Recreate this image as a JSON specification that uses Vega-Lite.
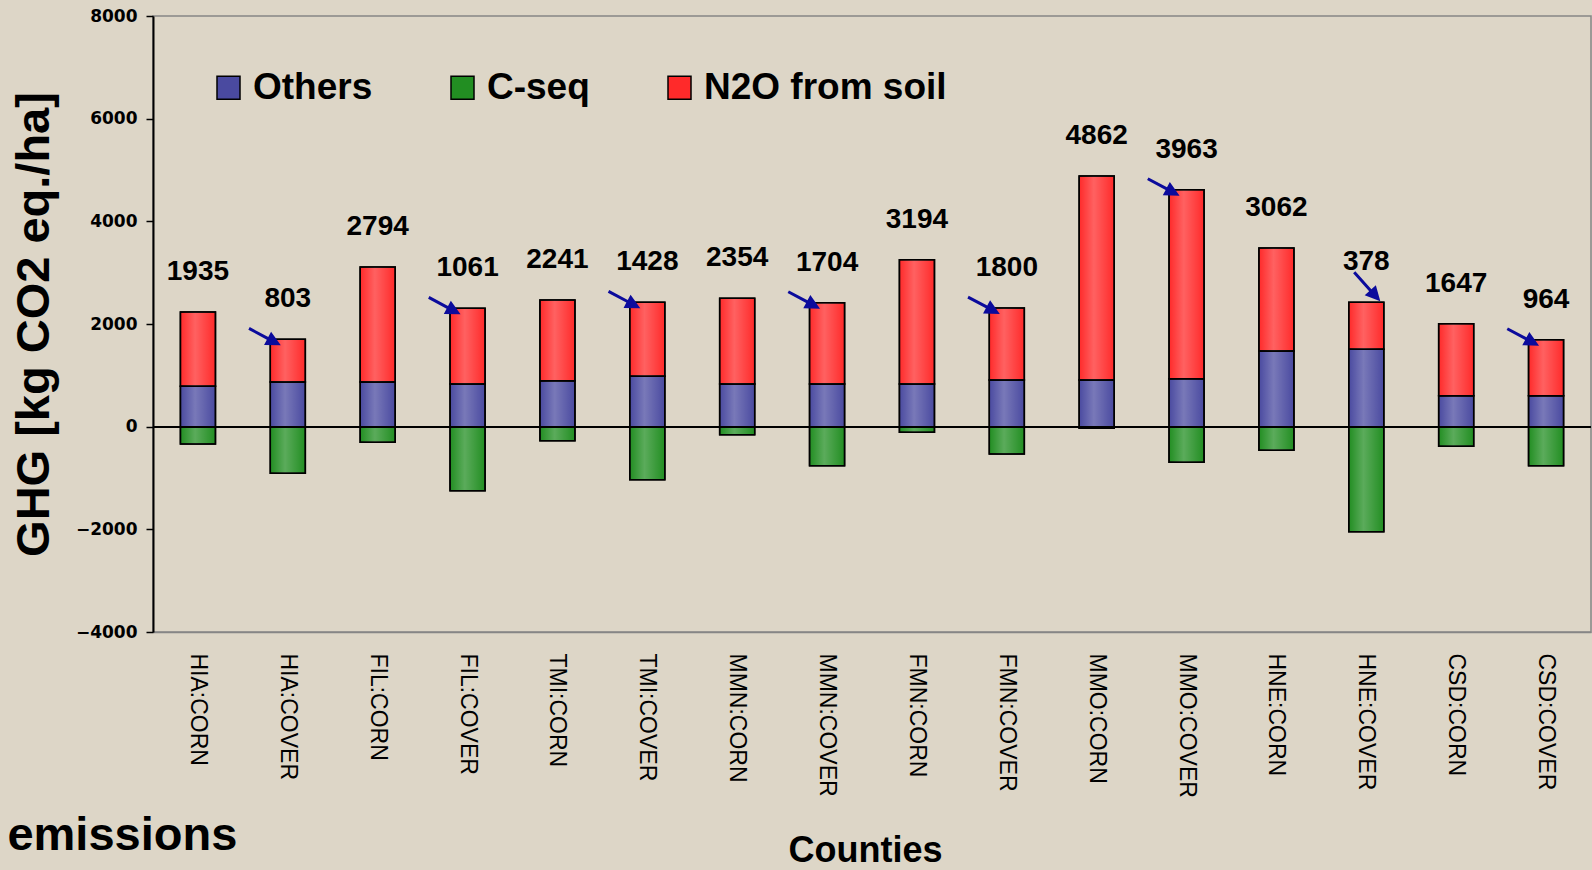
{
  "$schema": "https://vega.github.io/schema/vega-lite/v6.json",
  "width": 1438,
  "height": 616,
  "autosize": {"type": "none"},
  "padding": {"left": 153, "top": 16, "right": 1, "bottom": 238},
  "background": "#DDD6C7",
  "config": {
    "view": {"stroke": "#868686", "strokeWidth": 1.5},
    "font": "Liberation Sans",
    "axisY": {
      "domainColor": "black", "domainWidth": 2,
      "tickColor": "black", "tickWidth": 1.5, "tickSize": 7,
      "labelFont": "DejaVu Sans", "labelFontWeight": "bold", "labelFontSize": 17,
      "labelColor": "black", "labelPadding": 9, "grid": false,
      "titleFont": "Liberation Sans", "titleFontSize": 47, "titleFontWeight": "bold",
      "titleColor": "black", "titlePadding": 17
    },
    "axisX": {
      "domainColor": "#868686", "domainWidth": 1.5, "ticks": false,
      "labelAngle": 90, "labelFont": "Liberation Sans", "labelFontSize": 23,
      "labelColor": "black", "labelPadding": 21, "grid": false,
      "titleFont": "Liberation Sans", "titleFontSize": 36, "titleFontWeight": "bold",
      "titleColor": "black", "titleX": 712, "titleY": 229, "titleBaseline": "alphabetic", "titleAlign": "center"
    }
  },
  "title": {
    "text": "emissions", "orient": "bottom", "anchor": "start", "frame": "bounds",
    "offset": -18, "baseline": "alphabetic", "font": "Liberation Sans",
    "fontSize": 47, "fontWeight": "bold", "color": "black", "dx": -3
  },
  "datasets": {
    "ghg": [
      {"site": "HIA:CORN", "Others": 785, "C-seq": -337, "N2O from soil": 1449, "net": 1935},
      {"site": "HIA:COVER", "Others": 871, "C-seq": -909, "N2O from soil": 830, "net": 803},
      {"site": "FIL:CORN", "Others": 871, "C-seq": -306, "N2O from soil": 2240, "net": 2794},
      {"site": "FIL:COVER", "Others": 832, "C-seq": -1247, "N2O from soil": 1473, "net": 1061},
      {"site": "TMI:CORN", "Others": 896, "C-seq": -273, "N2O from soil": 1572, "net": 2241},
      {"site": "TMI:COVER", "Others": 980, "C-seq": -1033, "N2O from soil": 1442, "net": 1428},
      {"site": "MMN:CORN", "Others": 832, "C-seq": -156, "N2O from soil": 1668, "net": 2354},
      {"site": "MMN:COVER", "Others": 832, "C-seq": -760, "N2O from soil": 1584, "net": 1704},
      {"site": "FMN:CORN", "Others": 832, "C-seq": -110, "N2O from soil": 2421, "net": 3194},
      {"site": "FMN:COVER", "Others": 910, "C-seq": -532, "N2O from soil": 1402, "net": 1800},
      {"site": "MMO:CORN", "Others": 910, "C-seq": -30, "N2O from soil": 3974, "net": 4862},
      {"site": "MMO:COVER", "Others": 935, "C-seq": -695, "N2O from soil": 3682, "net": 3963},
      {"site": "HNE:CORN", "Others": 1475, "C-seq": -461, "N2O from soil": 2006, "net": 3062},
      {"site": "HNE:COVER", "Others": 1507, "C-seq": -2046, "N2O from soil": 915, "net": 378},
      {"site": "CSD:CORN", "Others": 604, "C-seq": -383, "N2O from soil": 1403, "net": 1647},
      {"site": "CSD:COVER", "Others": 604, "C-seq": -760, "N2O from soil": 1091, "net": 964}
    ]
  },
  "data": {"name": "ghg"},
  "layer": [
    {
      "transform": [
        {"fold": ["Others", "C-seq", "N2O from soil"], "as": ["component", "value"]},
        {"calculate": "indexof(['Others','C-seq','N2O from soil'], datum.component)", "as": "ord"}
      ],
      "mark": {"type": "bar", "stroke": "black", "strokeWidth": 1.5},
      "encoding": {
        "x": {"field": "site", "type": "nominal", "sort": null, "title": "Counties",
              "scale": {"paddingInner": 0.61, "paddingOuter": 0.305}},
        "y": {"field": "value", "type": "quantitative", "stack": "zero", "title": "GHG [kg CO2 eq./ha]",
              "scale": {"domain": [-4000, 8000], "nice": false},
              "axis": {"values": [-4000, -2000, 0, 2000, 4000, 6000, 8000], "format": "d"}},
        "color": {"field": "component", "type": "nominal",
                  "scale": {"domain": ["Others", "C-seq", "N2O from soil"], "range": ["#4A4AA0", "#228E22", "#FF2A2A"]},
                  "legend": {"title": null, "orient": "none", "legendX": 57, "legendY": 53, "direction": "horizontal",
                             "symbolType": "square", "symbolSize": 529,
                             "symbolStrokeColor": "black", "symbolStrokeWidth": 1.5, "symbolOpacity": 1,
                             "labelFont": "Liberation Sans", "labelFontSize": 37, "labelFontWeight": "bold",
                             "labelLimit": 400, "labelBaseline": "middle",
                             "labelColor": "black", "labelOffset": 6, "columnPadding": 71, "padding": 0}},
        "order": {"field": "ord", "type": "quantitative"}
      }
    },
    {
      "transform": [
        {"fold": ["Others", "C-seq", "N2O from soil"], "as": ["component", "value"]},
        {"calculate": "indexof(['Others','C-seq','N2O from soil'], datum.component)", "as": "ord"}
      ],
      "mark": {"type": "bar", "stroke": "black", "strokeWidth": 1.5,
               "fill": {"gradient": "linear", "x1": 0, "x2": 1, "y1": 0, "y2": 0,
                        "stops": [{"offset": 0, "color": "rgba(255,255,255,0)"},
                                  {"offset": 0.42, "color": "rgba(255,255,255,0.26)"},
                                  {"offset": 1, "color": "rgba(255,255,255,0)"}]}},
      "encoding": {
        "x": {"field": "site", "type": "nominal", "sort": null, "title": "Counties"},
        "y": {"field": "value", "type": "quantitative", "stack": "zero", "title": "GHG [kg CO2 eq./ha]"},
        "detail": {"field": "component", "type": "nominal"},
        "order": {"field": "ord", "type": "quantitative"}
      }
    },
    {
      "mark": {"type": "rule", "color": "black", "strokeWidth": 1.5},
      "encoding": {"y": {"datum": 0, "type": "quantitative", "title": "GHG [kg CO2 eq./ha]"}}
    },
    {
      "transform": [{"calculate": "datum.Others + datum['N2O from soil']", "as": "top"}],
      "mark": {"type": "text", "dy": -40, "fontSize": 28, "fontWeight": "bold", "font": "Liberation Sans", "baseline": "middle", "color": "black"},
      "encoding": {
        "x": {"field": "site", "type": "nominal", "sort": null, "title": "Counties"},
        "y": {"field": "top", "type": "quantitative", "title": "GHG [kg CO2 eq./ha]"},
        "text": {"field": "net", "type": "nominal"}
      }
    },
    {
      "transform": [
        {"filter": "indexof(datum.site, 'COVER') >= 0 && datum.site !== 'HNE:COVER'"},
        {"calculate": "datum.Others + datum['N2O from soil']", "as": "top"}
      ],
      "mark": {"type": "point", "shape": "M0,0L-0.3,-0.15L-0.3,-0.03L-0.72,-0.03L-0.72,0.03L-0.3,0.03L-0.3,0.15Z",
               "size": 10000, "filled": true, "color": "#0B0B9C", "opacity": 1, "angle": 28,
               "xOffset": -7, "yOffset": 6, "strokeWidth": 0},
      "encoding": {
        "x": {"field": "site", "type": "nominal", "sort": null, "title": "Counties"},
        "y": {"field": "top", "type": "quantitative", "title": "GHG [kg CO2 eq./ha]"}
      }
    },
    {
      "transform": [
        {"filter": "datum.site === 'HNE:COVER'"},
        {"calculate": "datum.Others + datum['N2O from soil']", "as": "top"}
      ],
      "mark": {"type": "point", "shape": "M0,0L-0.3,-0.15L-0.3,-0.03L-0.78,-0.03L-0.78,0.03L-0.3,0.03L-0.3,0.15Z",
               "size": 10000, "filled": true, "color": "#0B0B9C", "opacity": 1, "angle": 48,
               "xOffset": 14, "yOffset": -1, "strokeWidth": 0},
      "encoding": {
        "x": {"field": "site", "type": "nominal", "sort": null, "title": "Counties"},
        "y": {"field": "top", "type": "quantitative", "title": "GHG [kg CO2 eq./ha]"}
      }
    }
  ]
}
